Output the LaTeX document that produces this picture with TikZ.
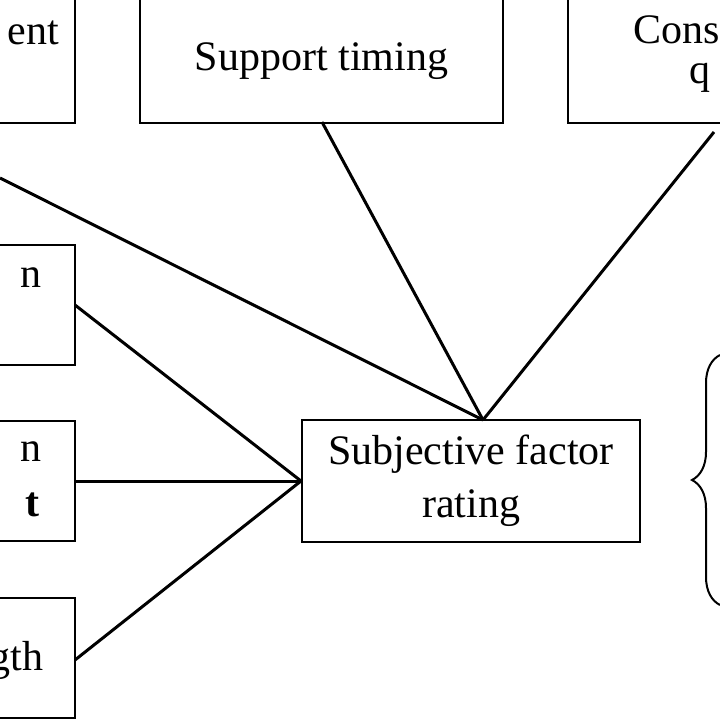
\documentclass[tikz,border=0pt]{standalone}
\usepackage{fontspec}
\setmainfont{Liberation Serif}
\usetikzlibrary{decorations.pathreplacing}
\tikzset{every picture/.style={line width=2pt},
  box/.style={draw,line width=2pt,inner sep=0pt,align=center,font=\fontsize{42}{53}\selectfont},
  part/.style={inner sep=0pt,font=\fontsize{42}{50}\selectfont},
  link/.style={line width=3pt}}
\begin{document}
\begin{tikzpicture}[x=1pt,y=1pt,yscale=-1]
\useasboundingbox (0,0) rectangle (720,720);
\clip (0,0) rectangle (720,720);

%Boxes
\node[box,minimum width=363,minimum height=124] (timing) at (321.5,61) {\raisebox{-12pt}{Support timing}};
\node[box,minimum width=200,minimum height=124] (topleft) at (-25,61) {};
\node[box,minimum width=200,minimum height=124] (topright) at (668,61) {};
\node[box,minimum width=200,minimum height=120] (left1) at (-25,305) {};
\node[box,minimum width=200,minimum height=120] (left2) at (-25,481) {};
\node[box,minimum width=200,minimum height=120] (left3) at (-25,658) {};
\node[box,minimum width=338,minimum height=122] (rating) at (471,481) {Subjective factor\\rating};

%Clipped texts
\node[part,anchor=east] (t1) at (60,33) {ent};
\node[part,anchor=east] (t2) at (42,278) {n};
\node[part,anchor=east] (t3) at (42,452) {n};
\node[part,anchor=east] (t4) at (40,505) {\bfseries t};
\node[part,anchor=east] (t5) at (44,660) {gth};
\node[part,anchor=west] (t6) at (632,30) {Cons};
\node[part,anchor=west] (t7) at (688,78) {q};

%Connectors
\coordinate (tip) at (483,420);
\coordinate (lin) at (0,178);
\coordinate (rin) at (714,132);
\coordinate (ts) at (322,122);
\coordinate (l1) at (75,305);
\coordinate (l3) at (75,660);
\draw[link] (lin) -- (tip);
\draw[link] (ts) -- (tip);
\draw[link] (rin) -- (tip);
\draw[link] (l1) -- (rating.west);
\draw[link] (left2.east) -- (rating.west);
\draw[link] (l3) -- (rating.west);

%Brace
\draw[line width=2pt,decorate,decoration={brace,amplitude=28pt}] (720,605) -- (720,355);
\end{tikzpicture}
\end{document}
